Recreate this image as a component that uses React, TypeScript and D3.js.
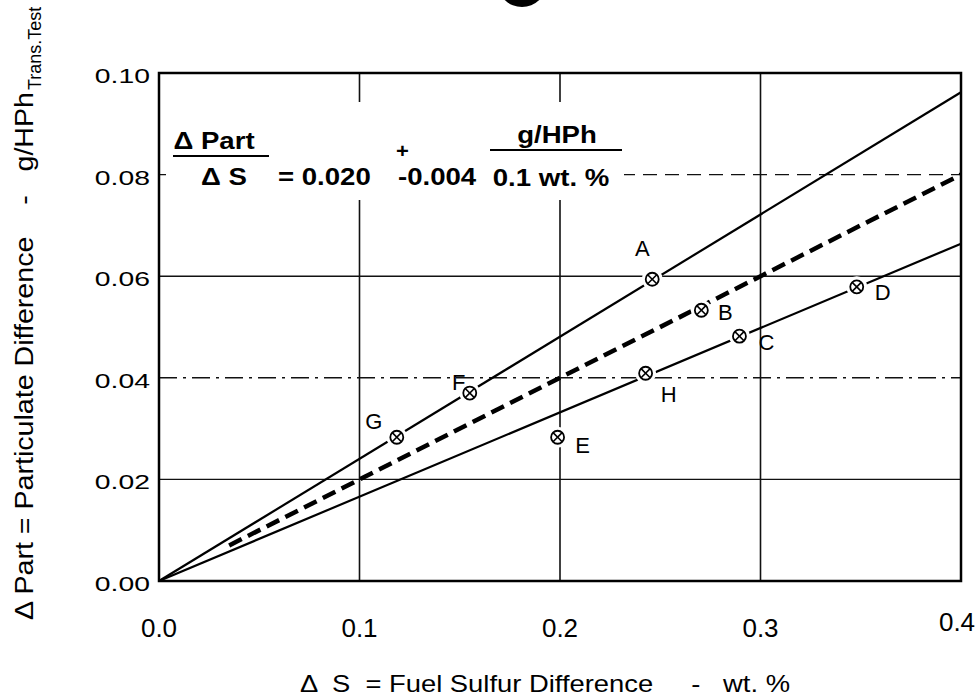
import React from "react";
import * as d3 from "d3";

const xTicks = [0.0, 0.1, 0.2, 0.3, 0.4];
const yTicks = [0.0, 0.02, 0.04, 0.06, 0.08, 0.1];
const xTickLabels = ["0.0", "0.1", "0.2", "0.3", "0.4"];
const yTickLabels = ["0.00", "0.02", "0.04", "0.06", "0.08", "0.10"];

const pointNames = ["A", "B", "C", "D", "E", "F", "G", "H"];
const pointX = [0.246, 0.2705, 0.2895, 0.348, 0.1988, 0.155, 0.1186, 0.2427];
const pointY = [0.0594, 0.0533, 0.0482, 0.0579, 0.0283, 0.037, 0.0283, 0.0409];
// label offsets in px (styling)
const labelDx = [-10, 24, 27, 26, 25, -11, -23, 23];
const labelDy = [-31, 2, 6, 5, 8, -11, -16, 21];

const upperLine: [number, number][] = [[0, 0], [0.4, 0.0962]];
const meanLine: [number, number][] = [[0.035, 0.007], [0.4, 0.08]];
const lowerLine: [number, number][] = [[0, 0], [0.4, 0.0664]];

function T(props: { x: number; y: number; size: number; sx?: number; anchor?: string; weight?: string; children: any }) {
  const { x, y, size, sx = 1, anchor = "start", weight = "normal", children } = props;
  return (
    <text transform={`translate(${x},${y}) scale(${sx},1)`} fontSize={size} textAnchor={anchor} fontWeight={weight} fill="#000" xmlSpace="preserve">
      {children}
    </text>
  );
}

export default function App() {
  const W = 977, H = 697;
  const x = d3.scaleLinear().domain([0, 0.4]).range([159, 961]);
  const y = d3.scaleLinear().domain([0, 0.1]).range([581, 73]);
  const line = d3.line<[number, number]>().x(d => x(d[0])).y(d => y(d[1]));
  const font = "'Liberation Sans', Arial, Helvetica, sans-serif";

  const gridDash: Record<string, string> = { "0.08": "14 8", "0.04": "18 6 3 6" };

  return (
    <svg width={W} height={H} style={{ position: "absolute", left: 0, top: 0, background: "#fff" }} fontFamily={font}>
      <rect width={W} height={H} fill="#fff" />
      {/* hole punch artifact */}
      <ellipse cx={522} cy={-16} rx={24} ry={23} fill="#000" />

      {/* grid */}
      {xTicks.slice(1, -1).map(t => (
        <line key={"gx" + t} x1={x(t)} x2={x(t)} y1={y(0.1)} y2={y(0)} stroke="#111" strokeWidth={1.6} />
      ))}
      {yTicks.slice(1, -1).map(t => (
        <line key={"gy" + t} x1={x(0)} x2={x(0.4)} y1={y(t)} y2={y(t)} stroke="#111" strokeWidth={1.4}
          strokeDasharray={gridDash[t.toFixed(2)] || undefined} />
      ))}

      {/* blank area behind the formula */}
      <rect x={166} y={102} width={458} height={98} fill="#fff" />

      {/* frame */}
      <rect x={x(0)} y={y(0.1)} width={x(0.4) - x(0)} height={y(0) - y(0.1)} fill="none" stroke="#000" strokeWidth={2.5} />

      {/* fit lines */}
      <path d={line(upperLine) || ""} fill="none" stroke="#000" strokeWidth={2.2} />
      <path d={line(lowerLine) || ""} fill="none" stroke="#000" strokeWidth={2.2} />
      <path d={line(meanLine) || ""} fill="none" stroke="#000" strokeWidth={4.5} strokeDasharray="14 7" />

      {/* points */}
      {pointNames.map((n, i) => {
        const cx = x(pointX[i]), cy = y(pointY[i]);
        const r = 6.5, k = r * 0.7;
        return (
          <g key={n}>
            <circle cx={cx} cy={cy} r={r + 4} fill="#fff" />
            <circle cx={cx} cy={cy} r={r} fill="#fff" stroke="#000" strokeWidth={1.8} />
            <line x1={cx - k} y1={cy - k} x2={cx + k} y2={cy + k} stroke="#000" strokeWidth={1.6} />
            <line x1={cx - k} y1={cy + k} x2={cx + k} y2={cy - k} stroke="#000" strokeWidth={1.6} />
            <text x={cx + labelDx[i]} y={cy + labelDy[i] + 8} fontSize={22} textAnchor="middle" fill="#000">{n}</text>
          </g>
        );
      })}

      {/* formula */}
      <T x={214} y={149} size={23} sx={1.2} anchor="middle" weight="bold">Δ Part</T>
      <line x1={173} x2={269} y1={156} y2={156} stroke="#000" strokeWidth={2.2} />
      <T x={224} y={185} size={23} sx={1.2} anchor="middle" weight="bold">Δ S</T>
      <T x={278} y={185} size={23} sx={1.2} weight="bold">= 0.020</T>
      <T x={396} y={158} size={20} sx={1.1} weight="bold">+</T>
      <T x={398} y={185} size={23} sx={1.2} weight="bold">-0.004</T>
      <T x={557} y={143} size={23} sx={1.2} anchor="middle" weight="bold">g/HPh</T>
      <line x1={490} x2={622} y1={150} y2={150} stroke="#000" strokeWidth={2.2} />
      <T x={551} y={186} size={23} sx={1.2} anchor="middle" weight="bold">0.1 wt. %</T>

      {/* tick labels */}
      {yTicks.map((t, i) => (
        <T key={"yl" + t} x={150} y={y(t) + 10} size={21} sx={1.35} anchor="end">{yTickLabels[i]}</T>
      ))}
      {xTicks.map((t, i) => (
        <T key={"xl" + t} x={x(t) + (i === 4 ? -4 : 0)} y={i === 4 ? 631 : 637} size={26} anchor="middle">{xTickLabels[i]}</T>
      ))}

      {/* axis titles */}
      <text x={300} y={692} fontSize={24} textLength={490} lengthAdjust="spacingAndGlyphs" fill="#000" xmlSpace="preserve">
        {"Δ  S  = Fuel Sulfur Difference     -   wt. %"}
      </text>
      <g transform="translate(33,620) rotate(-90)">
        <text x={0} y={0} fontSize={25} textLength={528} lengthAdjust="spacingAndGlyphs" fill="#000" xmlSpace="preserve">
          {"Δ Part = Particulate Difference    -   g/HPh"}
        </text>
        <text x={530} y={8} fontSize={18} fill="#000">Trans.Test</text>
      </g>
    </svg>
  );
}
